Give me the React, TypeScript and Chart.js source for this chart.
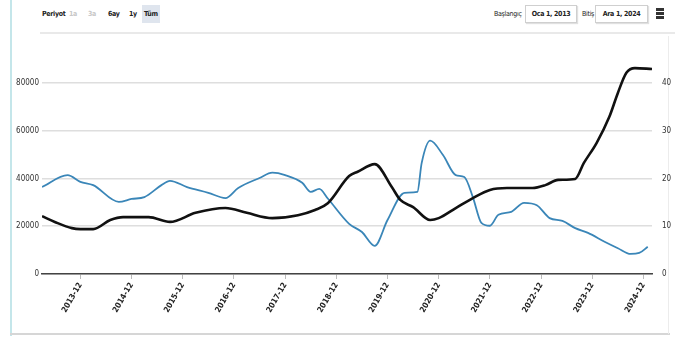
import React, { useEffect, useRef } from "react";
import { Chart, registerables } from "chart.js";

Chart.register(...registerables);

// months counted from 2012-12 (12 = 2013-12, 24 = 2014-12, ...)
const blueMonths = [3, 9, 12, 15, 21, 24, 27, 31, 33, 37, 42, 46, 49, 54, 57, 60, 64, 66, 68, 70, 75, 78, 81, 84, 88, 91, 92, 94, 97, 100, 102, 104, 106, 108, 110, 113, 116, 119, 122, 125, 128, 131, 135, 138, 141, 143, 145];
const blueValues = [36400, 41400, 38600, 37200, 30200, 31400, 32200, 37200, 39000, 36400, 34000, 31800, 36000, 40200, 42400, 41400, 38200, 34400, 35600, 31600, 21000, 17600, 11800, 22600, 34000, 34400, 46400, 55800, 49800, 41400, 40600, 32200, 21400, 20200, 24800, 26000, 29800, 28800, 23400, 22200, 19200, 17200, 13400, 10800, 8400, 8800, 11400];

const blackMonths = [3, 6, 10, 12, 15, 19, 22, 28, 33, 39, 46, 51, 57, 63, 67, 70, 75, 77, 81, 85, 87, 90, 94, 96, 100, 104, 108, 112, 118, 121, 124, 128, 130, 133, 136, 138, 140, 142, 146];
const blackValues = [12.1, 10.9, 9.6, 9.4, 9.4, 11.3, 11.9, 11.9, 10.9, 12.8, 13.8, 12.8, 11.7, 12.3, 13.4, 14.8, 20.5, 21.4, 23.0, 18.2, 15.5, 14.0, 11.3, 11.7, 13.8, 15.9, 17.6, 18.0, 18.0, 18.6, 19.7, 19.9, 23.2, 27.4, 32.9, 37.9, 42.1, 43.1, 42.9];

const xTickMonths = [12, 24, 36, 48, 60, 72, 84, 96, 108, 120, 132, 144];
const xTickLabels = ["2013-12", "2014-12", "2015-12", "2016-12", "2017-12", "2018-12", "2019-12", "2020-12", "2021-12", "2022-12", "2023-12", "2024-12"];
const leftTicks = [0, 20000, 40000, 60000, 80000];
const rightTicks = [0, 10, 20, 30, 40];
const periodButtons = ["1a", "3a", "6ay", "1y", "Tüm"];
const startLabel = "Başlangıç";
const startValue = "Oca 1, 2013";
const endLabel = "Bitiş";
const endValue = "Ara 1, 2024";

const FONT = "'DejaVu Sans Condensed', 'Liberation Sans Narrow', 'Liberation Sans', Arial, sans-serif";

export default function App() {
  const ref = useRef<HTMLCanvasElement | null>(null);

  useEffect(() => {
    document.body.style.margin = "0";
    const ctx = ref.current;
    if (!ctx) return;
    const chart = new Chart(ctx, {
      type: "line",
      data: {
        datasets: [
          {
            label: "B",
            data: blackMonths.map((m, i) => ({ x: m, y: blackValues[i] })),
            yAxisID: "y1",
            borderColor: "#111111",
            borderWidth: 2.6,
            pointRadius: 0,
            cubicInterpolationMode: "monotone",
            fill: false,
          },
          {
            label: "A",
            data: blueMonths.map((m, i) => ({ x: m, y: blueValues[i] })),
            yAxisID: "y",
            borderColor: "#3a86b8",
            borderWidth: 1.8,
            pointRadius: 0,
            cubicInterpolationMode: "monotone",
            fill: false,
          },
        ],
      },
      options: {
        animation: false,
        responsive: false,
        maintainAspectRatio: false,
        layout: { padding: { top: 19, left: 0, right: 0, bottom: 0 } },
        plugins: { legend: { display: false }, tooltip: { enabled: false } },
        scales: {
          x: {
            type: "linear",
            min: 3,
            max: 146,
            afterBuildTicks: (s: any) => {
              s.ticks = xTickMonths.map((v) => ({ value: v }));
            },
            afterFit: (s: any) => {
              s.height = 58;
            },
            ticks: {
              minRotation: 60,
              maxRotation: 60,
              autoSkip: false,
              padding: 2,
              color: "#222",
              font: { family: FONT, size: 8, weight: "bold" },
              callback: (v: any) => xTickLabels[xTickMonths.indexOf(Number(v))] ?? "",
            },
            grid: { display: true, drawOnChartArea: false, drawTicks: true, tickLength: 5, color: "#bbbbbb" },
            border: { display: true, color: "#444444", width: 1.5 },
          },
          y: {
            position: "left",
            min: 0,
            max: 90000,
            afterBuildTicks: (s: any) => {
              s.ticks = leftTicks.map((v) => ({ value: v }));
            },
            afterFit: (s: any) => {
              s.width = 42;
            },
            ticks: {
              padding: 3,
              color: "#333",
              font: { family: FONT, size: 8 },
              callback: (v: any) => String(v),
            },
            grid: { color: "#dedede", lineWidth: 1.5, drawTicks: false },
            border: { display: false },
          },
          y1: {
            position: "right",
            min: 0,
            max: 45,
            afterBuildTicks: (s: any) => {
              s.ticks = rightTicks.map((v) => ({ value: v }));
            },
            afterFit: (s: any) => {
              s.width = 23;
            },
            ticks: {
              padding: 10,
              color: "#333",
              font: { family: FONT, size: 8 },
              callback: (v: any) => String(v),
            },
            grid: { display: false, drawTicks: false },
            border: { display: false },
          },
        },
      },
    });
    return () => chart.destroy();
  }, []);

  const txt: React.CSSProperties = {
    position: "absolute",
    fontFamily: FONT,
    fontSize: 7,
    fontWeight: "bold",
    lineHeight: "12px",
    letterSpacing: "-0.3px",
    color: "#222",
    whiteSpace: "nowrap",
  };
  const btnX = [67, 86, 106, 127, 142];

  return (
    <div style={{ position: "absolute", left: 0, top: 0, width: 675, height: 338, background: "#fff", overflow: "hidden" }}>
      <div style={{ position: "absolute", left: 10, top: 0, width: 2, height: 336, background: "#c4e6ea" }} />
      <div style={{ position: "absolute", left: 10, top: 333, width: 660, height: 2, background: "#d6d6d6" }} />
      <div style={{ position: "absolute", left: 668, top: 36, width: 1, height: 298, background: "#ececec" }} />
      <div style={{ position: "absolute", left: 40, top: 32, width: 635, height: 2, background: "#e9e9e9" }} />
      <div style={{ ...txt, left: 42, top: 8 }}>Periyot</div>
      {periodButtons.map((b, i) => (
        <div
          key={b}
          style={{
            ...txt,
            left: btnX[i],
            top: 5,
            padding: "3px 2px",
            color: i < 2 ? "#c8c8c8" : "#222",
            background: i === 4 ? "#dfe5ee" : "transparent",
          }}
        >
          {b}
        </div>
      ))}
      <div style={{ ...txt, left: 494, top: 8, fontWeight: "normal" }}>{startLabel}</div>
      <div
        style={{
          ...txt,
          left: 525,
          top: 5,
          width: 50,
          height: 16,
          lineHeight: "16px",
          textAlign: "center",
          border: "1px solid #cfcfcf",
          boxShadow: "1px 1px 1px #e0e0e0",
        }}
      >
        {startValue}
      </div>
      <div style={{ ...txt, left: 582, top: 8, fontWeight: "normal" }}>{endLabel}</div>
      <div
        style={{
          ...txt,
          left: 595,
          top: 5,
          width: 51,
          height: 16,
          lineHeight: "16px",
          textAlign: "center",
          border: "1px solid #cfcfcf",
          boxShadow: "1px 1px 1px #e0e0e0",
        }}
      >
        {endValue}
      </div>
      {[0, 1, 2].map((i) => (
        <div key={i} style={{ position: "absolute", left: 656, top: 8 + i * 4, width: 8, height: 2.5, background: "#333" }} />
      ))}
      <canvas ref={ref} width={675} height={292} style={{ position: "absolute", left: 0, top: 40, width: 675, height: 292 }} />
    </div>
  );
}
